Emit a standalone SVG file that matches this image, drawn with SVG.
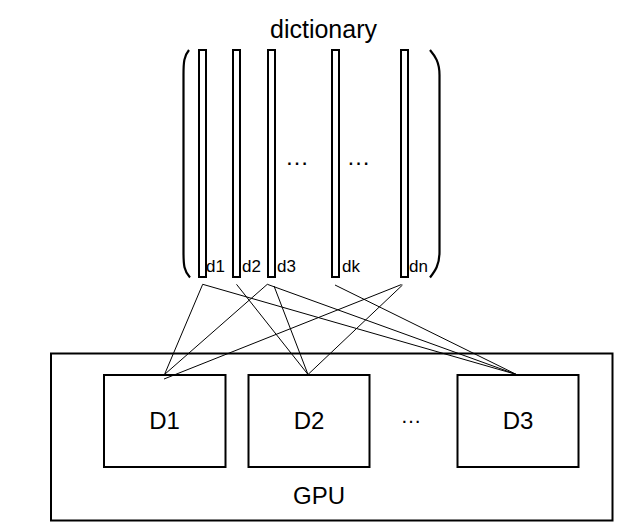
<svg xmlns="http://www.w3.org/2000/svg" width="626" height="532" viewBox="0 0 626 532">
<style>
text{font-family:"Liberation Sans",Arial,sans-serif;fill:#000}
.bar{fill:#fff;stroke:#000;stroke-width:2}
.paren{fill:none;stroke:#000;stroke-width:2.2}
.box{fill:#fff;stroke:#000;stroke-width:2}
.conn line{stroke:#000;stroke-width:1}
.lbl{font-size:17px}
.big{font-size:24px;text-anchor:middle}
.dots{font-size:24px;text-anchor:middle}
</style>
<rect width="626" height="532" fill="#fff"/>
<g id="dictionary">
<text x="323.5" y="38" class="big" style="font-size:25px">dictionary</text>
<path class="paren" d="M189,50 C184,56 183.5,62 183.5,75 L183.5,252 C183.5,265 184,271 190,277.5"/>
<path class="paren" d="M430,50 C435,56 439.5,62 439.5,75 L439.5,252 C439.5,265 435,271 430,277.5"/>
<g id="d1"><rect class="bar" x="199" y="50" width="7" height="227"/><text class="lbl" x="206" y="272">d1</text></g>
<g id="d2"><rect class="bar" x="233" y="50" width="7" height="227"/><text class="lbl" x="242" y="272">d2</text></g>
<g id="d3"><rect class="bar" x="268" y="50" width="7" height="227"/><text class="lbl" x="277" y="272">d3</text></g>
<g id="dk"><rect class="bar" x="332" y="50" width="7" height="227"/><text class="lbl" x="342" y="272">dk</text></g>
<g id="dn"><rect class="bar" x="401" y="50" width="7" height="227"/><text class="lbl" x="409" y="272">dn</text></g>
<text class="dots" x="297" y="165">…</text>
<text class="dots" x="358.5" y="165">…</text>
</g>
<g id="gpu">
<rect class="box" x="51" y="353.5" width="561.5" height="167"/>
<text x="319" y="504" class="big">GPU</text>
<text x="411" y="423" class="dots" style="font-size:21px">…</text>
</g>
<g id="D1"><rect class="box" x="104" y="375" width="121.5" height="92"/><text x="164.5" y="429" class="big">D1</text></g>
<g id="D2"><rect class="box" x="248.5" y="375" width="121" height="92"/><text x="309" y="429" class="big">D2</text></g>
<g id="D3"><rect class="box" x="457.5" y="375" width="121" height="92"/><text x="518" y="429" class="big">D3</text></g>
<g class="conn" id="connectors">
<line x1="202.7" y1="284.3" x2="164.5" y2="374.5"/>
<line x1="202.7" y1="284.3" x2="516.5" y2="374.5"/>
<line x1="236.5" y1="284.3" x2="308" y2="374.5"/>
<line x1="267.3" y1="284.3" x2="164.5" y2="374.5"/>
<line x1="267.3" y1="284.3" x2="516.5" y2="374.5"/>
<line x1="274" y1="286" x2="308" y2="374.5"/>
<line x1="335" y1="285" x2="516.5" y2="374.5"/>
<line x1="401.5" y1="284.5" x2="164" y2="379"/>
<line x1="402.5" y1="285" x2="308" y2="374.5"/>
</g>
</svg>
